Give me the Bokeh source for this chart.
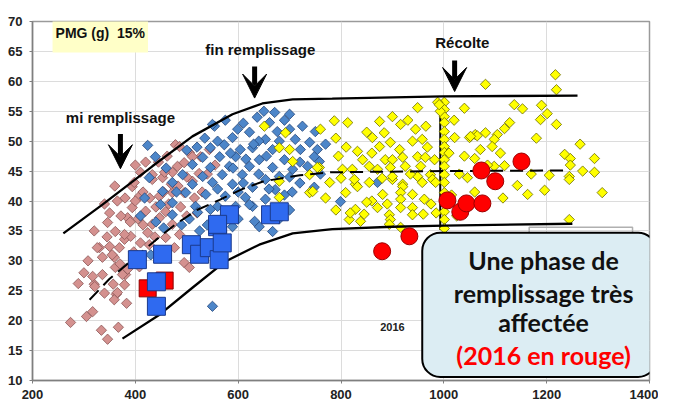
import numpy as np
from bokeh.plotting import figure
from bokeh.models import (Range1d, Label, BoxAnnotation, Arrow, VeeHead, FixedTicker)
from bokeh.embed import file_html
from bokeh.resources import INLINE

# ---------------- data ----------------
pink_pts = [(274,19.7),(289,26.2),(305,20.7),(317,21.5),(334,18.4),(346,16.9),(367,18.9),(383,22.9),
    (340,24.6),(357,26.1),(320,26.1),(317,27.4),(330,32.2),(346,36.4),(336,30.6),(363,24.4),(379,26.0),
    (381,27.7),(326,32.2),(350,32.4),(359,30.6),(369,32.2),(379,33.6),(391,34.1),(361,28.9),(375,27.7),
    (365,24.7),(359,23.5),(336,27.7),(321,25.7),(361,34.9),(379,34.4),(385,37.2),(394,38.9),(405,37.0),
    (420,38.3),(433,36.1),(447,37.2),(459,38.2),(472,36.1),(486,34.4),(476,32.2),(459,33.9),(424,34.7),
    (427,32.7),(410,33.0),(355,31.0),(495,29.7),(505,28.9),(408,29.0),(385,28.6),(394,42.4),(410,44.8),
    (433,43.6),(453,43.9),(472,44.8),(482,45.8),(472,41.4),(447,40.8),(428,40.5),(408,40.8),(495,41.4),
    (511,43.3),(524,44.6),(505,48.1),(527,47.4),(544,48.6),(398,43.1),(433,44.4),(457,44.8),(478,49.4),
    (486,49.1),(511,47.4),(495,46.4),(350,38.0),(365,40.0),(372,37.5),(380,40.5),(390,36.5),(400,40.0),
    (415,41.5),(440,39.0),(455,41.5),(465,39.5),(488,39.0),(500,37.5),(515,40.5),(415,36.0),(438,34.0),
    (450,31.5),(370,29.5),(397,31.5),(470,42.8),(360,42.5),(340,39.5),(320,35.0),(420,46.5),(445,46.5),
    (462,47.5),(530,41.5),(520,38.0),(540,44.5),(555,46.0),(500,44.0),(483,42.5),(400,46.0),(345,34.0),
    (308,30.0),(300,28.0)]
pink_x = [p[0] for p in pink_pts]
pink_y = [p[1] for p in pink_pts]

blue_pts = [(671,54.8),(700,54.5),(637,54.0),(554,52.5),(599,52.0),(622,51.5),(661,53.1),(676,51.6),
    (589,50.6),(653,50.3),(711,50.3),(750,51.6),(546,48.9),(573,49.4),(604,48.6),(628,48.9),(667,48.6),
    (721,48.6),(754,48.6),(531,47.3),(564,47.4),(595,47.4),(641,46.9),(690,46.9),(758,46.6),(511,46.1),
    (546,45.6),(583,45.8),(622,45.8),(667,45.6),(706,45.3),(492,44.4),(531,44.1),(569,44.4),(608,44.4),
    (653,43.6),(680,44.1),(472,43.1),(511,42.8),(550,43.1),(589,42.8),(628,42.3),(672,41.9),(453,41.6),
    (498,41.4),(537,41.1),(575,40.8),(614,40.6),(653,40.3),(472,39.7),(517,39.1),(560,39.1),(595,39.1),
    (628,39.1),(449,39.4),(472,37.7),(521,38.1),(546,38.6),(622,39.4),(641,35.7),(667,34.9),(550,22.4),
    (589,35.7),(632,36.6),(424,49.3),(439,47.4),(550,52.8),(427,43.9),(739,49.8),(748,47.4),(735,45.8),
    (871,43.1),(748,42.3),(799,39.9),(610,53.0),(640,50.0),(680,50.0),(700,52.0),(585,48.0),(615,47.0),
    (655,47.5),(700,44.0),(720,46.5),(560,50.0),(535,50.5),(520,49.0),(500,48.5),(610,43.0),(640,44.5),
    (660,42.0),(600,41.5),(580,38.0),(540,36.0),(505,37.0),(480,41.5),(460,45.5),(440,36.5),(690,41.0),
    (700,38.5),(660,38.0),(525,35.0),(560,42.0),(590,45.5),(630,49.5),(650,55.0),(690,53.5),(575,53.5),
    (725,52.5),(770,49.5),(760,44.5),(418,40.5),(410,37.5),(430,31.0),(455,35.5),(490,36.0),(565,36.5),
    (600,37.0),(705,41.5),(720,43.0),(680,37.0)]
blue_x = [p[0] for p in blue_pts]
blue_y = [p[1] for p in blue_pts]

yellow_pts = [(787,53.4),(813,53.1),(875,53.3),(900,54.1),(916,52.8),(949,55.6),(861,50.6),(884,51.4),
    (896,49.8),(875,49.1),(914,48.6),(939,50.0),(958,50.3),(832,48.3),(842,46.9),(855,45.8),(886,46.9),
    (900,46.9),(920,47.3),(949,47.4),(964,47.3),(982,46.9),(871,45.3),(896,45.6),(925,45.8),(949,44.1),
    (974,44.4),(803,45.3),(822,45.3),(758,45.6),(778,43.1),(828,42.8),(855,43.1),(900,43.6),(920,42.8),
    (958,43.1),(978,43.6),(1021,50.6),(1050,50.6),(1061,51.1),(1046,43.9),
    (1001,56.5),(1001,55.3),(1001,54.1),(1001,53.1),(1001,51.6),(1001,50.3),(1001,49.1),(1001,48.1),
    (1001,46.9),(1001,45.8),(1001,44.4),(1001,43.1),(1001,41.4),(1001,39.7),(1001,38.2),(1001,36.9),
    (1001,35.4),(988,56.5),(993,55.0),
    (739,41.4),(809,41.4),(826,43.6),(832,42.4),(881,41.1),(900,44.1),(920,42.4),(916,41.4),(916,40.3),
    (939,41.1),(962,40.3),(984,43.1),(828,38.6),(871,38.9),(916,38.9),(939,38.9),(939,37.7),(816,36.9),
    (838,36.6),(894,37.7),(896,36.9),(894,36.1),(916,35.6),(818,38.0),(845,37.8),(1244,36.9),
    (1217,61.1),(1081,59.5),(1219,58.6),(1137,56.1),(1153,55.4),(1188,53.6),(1201,54.6),(1219,52.8),
    (1128,53.1),(1118,52.1),(1104,51.1),(1081,51.4),(1065,50.9),(1052,50.8),(1098,50.3),(1094,49.1),
    (1071,48.6),(1060,47.1),(1118,45.9),(1235,47.8),(1246,47.1),(1293,47.1),(1293,44.8),(1246,46.0),
    (1205,44.3),(1244,44.1),(1244,43.6),(1143,42.6),(1163,41.1),(1196,41.8),(1308,41.4),(1098,45.8),
    (651,52.5),(692,51.4),(680,48.9),(700,48.6),(706,46.6),(680,43.3),(680,40.6),(739,44.4),(754,45.6),
    (745,41.6),(991,56.1),(760,52.0),(790,50.5),(795,47.5),(810,49.0),(850,51.5),(860,48.0),(930,53.5),
    (945,52.0),(965,52.5),(968,49.0),(955,45.8),(935,44.5),(880,43.8),(860,40.0),(890,39.5),(850,39.8),
    (800,43.8),(770,40.5),(790,38.5),(960,37.8),(975,39.5),(985,38.0),(1030,44.5),(1040,47.5),(1085,46.0),
    (1110,48.0),(1180,50.5),(1150,47.0),(1170,44.5),(1265,49.5),(1270,45.0),(1020,53.5),(1040,55.5),
    (1010,48.0),(1015,41.0),(1025,37.5),(1060,41.5),(1115,40.5),(1190,56.0)]
yellow_x = [p[0] for p in yellow_pts]
yellow_y = [p[1] for p in yellow_pts]

bsq_x = [404, 453, 441, 441, 509, 525, 544, 560, 563, 569, 583, 663, 680, 560]
bsq_y = [30.2, 31.1, 26.5, 22.4, 32.7, 31.1, 32.2, 35.7, 30.2, 33.0, 37.7, 37.7, 38.2, 36.1]

rsq_x = [424, 457]
rsq_y = [25.4, 26.7]

rci_x = [880, 933, 1007, 1032, 1044, 1075, 1073, 1100, 1151]
rci_y = [31.6, 34.1, 40.1, 38.2, 39.6, 39.6, 45.1, 43.3, 46.6]

upper_x = [260, 336, 433, 511, 589, 647, 706, 783, 997, 1260]
upper_y = [34.6, 39.4, 45.8, 50.8, 54.5, 56.3, 57.0, 57.1, 57.5, 57.6]
lower_x = [375, 447, 511, 575, 641, 706, 783, 900, 1000, 1250]
lower_y = [17.0, 21.0, 25.5, 29.9, 32.7, 34.6, 35.3, 35.7, 35.9, 36.2]
mid_x = [311, 350, 400, 440, 478, 520, 564, 608, 650, 720, 780, 1000, 1245]
mid_y = [23.5, 27.0, 30.6, 33.5, 36.1, 38.5, 40.2, 42.0, 43.3, 44.3, 44.8, 45.0, 45.1]
harvest_x = [993, 993]
harvest_y = [35.2, 56.6]

stage_labels = ["mi remplissage", "fin remplissage", "Récolte"]
stage_text_x = [371, 643, 1036]
stage_text_y = [54.0, 65.3, 66.5]
stage_arrow_x = [371, 632, 1021]
stage_arrow_top = [51.2, 62.5, 63.5]
stage_arrow_tip = [45.4, 57.2, 58.3]

x_ticks = [200, 400, 600, 800, 1000, 1200, 1400]
y_ticks = [10, 15, 20, 25, 30, 35, 40, 45, 50, 55, 60, 65, 70]

box_lines = ["Une phase de", "remplissage très", "affectée", "(2016 en rouge)"]
box_line_y = [30.2, 24.7, 19.7, 14.3]
box_line_colors = ["#111111", "#111111", "#111111", "#ff0000"]

# ---------------- figure ----------------
p = figure(width=658, height=401, output_backend="svg", toolbar_location=None,
           x_range=Range1d(200, 1400), y_range=Range1d(10, 70),
           min_border_left=32, min_border_top=21, min_border_right=9, min_border_bottom=21)
p.outline_line_color = "#9a9a9a"
p.outline_line_width = 1.5
p.background_fill_color = "white"
p.border_fill_color = "white"

p.xgrid.ticker = FixedTicker(ticks=x_ticks)
p.ygrid.ticker = FixedTicker(ticks=y_ticks)
p.grid.grid_line_color = "#dcdcdc"
p.grid.grid_line_width = 1

for ax in (p.xaxis[0], p.yaxis[0]):
    ax.major_label_text_font = "Liberation Sans"
    ax.major_label_text_font_style = "bold"
    ax.major_label_text_font_size = "13px"
    ax.major_label_text_color = "#222222"
    ax.axis_line_color = "#7f7f7f"
    ax.axis_line_width = 1.5
    ax.major_tick_line_color = "#7f7f7f"
    ax.major_tick_out = 3
    ax.major_tick_in = 0
    ax.minor_tick_line_color = None
p.xaxis.ticker = FixedTicker(ticks=x_ticks)
p.yaxis.ticker = FixedTicker(ticks=y_ticks)
p.xaxis.major_label_standoff = 6
p.yaxis.major_label_standoff = 7

# scatter series
ang = np.pi / 4
p.scatter(pink_x, pink_y, marker="square", angle=ang, size=7.3,
          fill_color="#d4918f", line_color="#8a5656", line_width=0.8)
p.scatter(blue_x, blue_y, marker="square", angle=ang, size=7.3,
          fill_color="#4d86c9", line_color="#24467a", line_width=0.8)
p.line(harvest_x, harvest_y, line_color="black", line_width=2)
p.scatter(yellow_x, yellow_y, marker="square", angle=ang, size=7.3,
          fill_color="#ffff00", line_color="#6b6b00", line_width=0.8)

# envelope curves
p.line(upper_x, upper_y, line_color="black", line_width=2.3)
p.line(lower_x, lower_y, line_color="black", line_width=2.3)
p.line(mid_x, mid_y, line_color="black", line_width=2, line_dash="13 7")

# 2016 markers
p.scatter(rsq_x, rsq_y, marker="square", size=17, fill_color="#ff0000",
          line_color="#8b0000", line_width=1)
p.scatter(bsq_x, bsq_y, marker="square", size=18, fill_color="#2f6af0",
          line_color="#1b3a8c", line_width=1)
p.scatter(rci_x, rci_y, marker="circle", size=17, fill_color="#ff0000",
          line_color="#9b0000", line_width=1)

# stage arrows and labels
for lab, tx, ty, ax_, at, ab in zip(stage_labels, stage_text_x, stage_text_y,
                                     stage_arrow_x, stage_arrow_top, stage_arrow_tip):
    p.add_layout(Label(x=tx, y=ty, text=lab, text_align="center", text_baseline="middle",
                       text_font="Liberation Sans", text_font_style="bold",
                       text_font_size="15px", text_color="#111111"))
    p.add_layout(Arrow(x_start=ax_, y_start=at, x_end=ax_, y_end=ab,
                       line_width=5, line_color="black",
                       end=VeeHead(size=24, fill_color="black", line_color="black")))

# PMG label
p.add_layout(Label(x=239, y=68.0, text="PMG (g)\u00a0\u00a015%", text_align="left",
                   text_baseline="middle",
                   text_font="Liberation Sans", text_font_style="bold", text_font_size="14px",
                   text_color="#111111", background_fill_color="#ffffc8", padding=(3, 11)))

p.add_layout(Label(x=900, y=18.9, text="2016", text_align="center", text_baseline="middle",
                   text_font="Liberation Sans", text_font_style="bold", text_font_size="11px",
                   text_color="#222222"))

# stray outline behind box
p.add_layout(BoxAnnotation(left=1166, right=1367, top=35.6, bottom=30, fill_color=None,
                           line_color="#b0b0b0", line_alpha=1, line_width=1.5))

# callout box
p.add_layout(BoxAnnotation(left=958, right=1413, top=34.7, bottom=10.6,
                           fill_color="#dcedf3", fill_alpha=1, line_color="black",
                           line_alpha=1, line_width=2, border_radius=18))
for t, yy, c in zip(box_lines, box_line_y, box_line_colors):
    p.add_layout(Label(x=1194, y=yy, text=t, text_align="center", text_baseline="middle",
                       text_font="Lato", text_font_style="bold", text_font_size="25px",
                       text_color=c))

open("out.html", "w").write(file_html(p, INLINE))
